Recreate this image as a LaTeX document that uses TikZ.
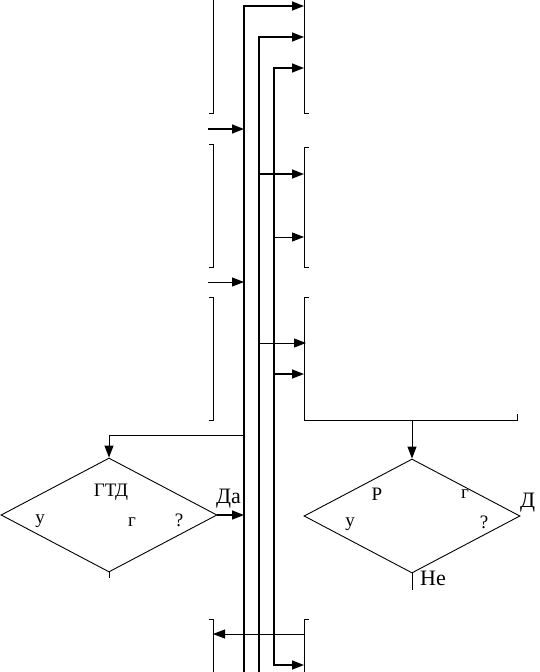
\documentclass[tikz,border=0pt]{standalone}
\usepackage{fontspec}
\setmainfont{Liberation Serif}
\usetikzlibrary{arrows.meta,shapes.geometric,positioning}
\tikzset{
  bus/.style={line width=1.8pt},
  edge/.style={line width=0.9pt},
  flow/.style={line width=1.6pt,-{Triangle[length=12pt,width=9pt]}},
  flowthin/.style={line width=0.9pt,-{Triangle[length=12pt,width=9pt]}},
  cond/.style={diamond,draw,line width=0.9pt,minimum width=216pt,minimum height=114pt,inner sep=0pt},
  txt/.style={font=\fontsize{19}{21}\selectfont,inner sep=0pt},
  ans/.style={font=\fontsize{22}{24}\selectfont,inner sep=0pt,anchor=west}
}

\begin{document}
\begin{tikzpicture}[x=1pt,y=-1pt]
  \useasboundingbox (0,0) rectangle (539,672);

  % Bus lines
  \coordinate (b1top) at (244,6);   \coordinate (b1bot) at (244,672);
  \coordinate (b2top) at (259,37);  \coordinate (b2bot) at (259,672);
  \coordinate (b3top) at (274,68);  \coordinate (b3bot) at (274,665);

  % Block edges (left column, right column)
  \coordinate (l1) at (213,0);  \coordinate (r1) at (304,0);
  \coordinate (l4) at (213,619); \coordinate (r4) at (304,619);
  \draw[edge] (l1) -- (213,113) -- (209,113);
  \draw[edge] (209,144) -- (213,144) -- (213,267) -- (209,267);
  \draw[edge] (209,297) -- (213,297) -- (213,420) -- (209,420);
  \draw[edge] (209,619) -- (l4) -- (213,672);
  \draw[edge] (r1) -- (304,113) -- (309,113);
  \draw[edge] (309,147) -- (304,147) -- (304,267) -- (309,267);
  \draw[edge] (309,297) -- (304,297) -- (304,420) -- (517,420) -- (517,414);
  \draw[edge] (309,619) -- (r4) -- (304,672);

  % Bus to right blocks
  \draw[flow] (b1bot) -- (b1top) -- (b1top -| r1);
  \draw[flow] (b2bot) -- (b2top) -- (b2top -| r1);
  \draw[{Triangle[length=12pt,width=9pt]}-{Triangle[length=12pt,width=9pt]},line width=1.6pt]
    (b3top -| r1) -- (b3top) -- (b3bot) -- (b3bot -| r4);
  \draw[flow] (259,174) -- (304,174);
  \draw[flowthin] (274,237) -- (304,237);
  \draw[flowthin] (259,343) -- (306,343);
  \draw[flow] (274,374) -- (304,374);

  % Left blocks to bus
  \draw[flow] (208,129) -- (b1top |- 0,129);
  \draw[flowthin] (208,282) -- (b1top |- 0,282);
  \draw[flowthin] (304,634) -- (213,634);

  % Decisions
  \node[cond] (cl) at (109,515) {};
  \node[cond] (cr) at (412,516) {};
  \draw[flowthin] (244,435) -| (cl.north);
  \draw[flowthin] (412,420) -- (cr.north);
  \draw[flow] (cl.east) -- (cl.east -| b1top);
  \draw[edge] (cl.south) -- ++(0,6);
  \draw[edge] (cr.south) -- ++(0,17);

  % Labels
  \node[txt] (clA) at (111,492) {ГТД};
  \node[txt] (clB) at (40,521) {у};
  \node[txt] (clC) at (132,522) {г};
  \node[txt] (clD) at (179,520) {?};
  \node[txt] (crA) at (377,494) {Р};
  \node[txt] (crB) at (465,494) {г};
  \node[txt] (crC) at (350,524) {у};
  \node[txt] (crD) at (484,522) {?};
  \node[ans] (yesl) at (216,499) {Да};
  \node[ans] (yesr) at (520,503) {Д};
  \node[ans] (nor) at (420,578) {Не};
\end{tikzpicture}
\end{document}
